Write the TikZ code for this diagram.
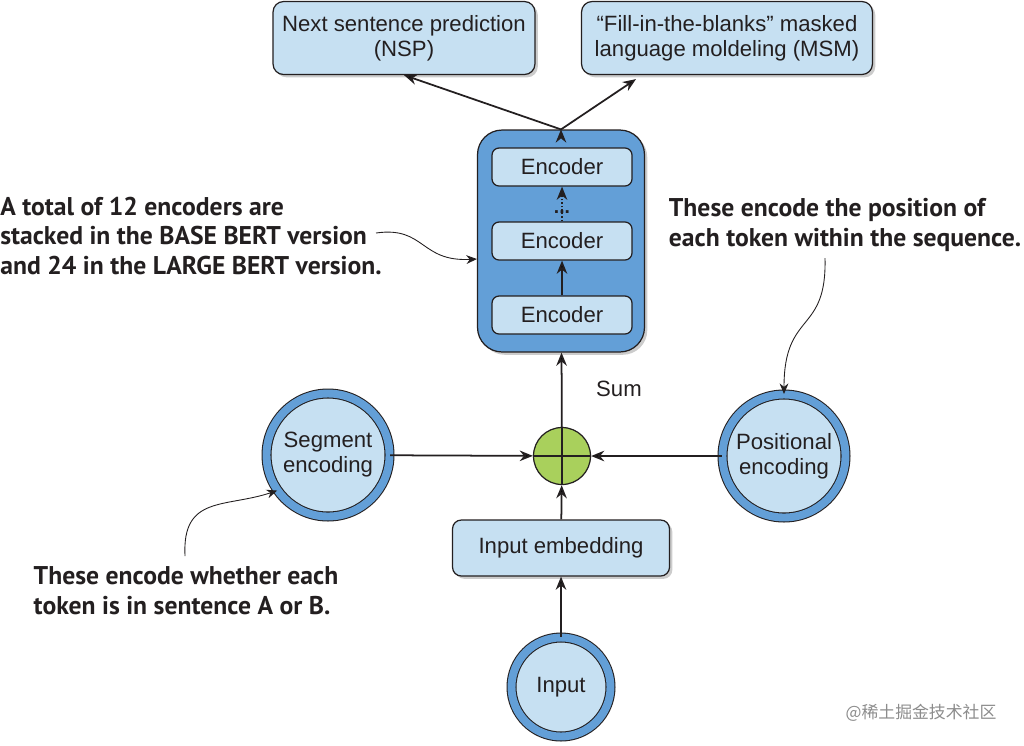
\documentclass[tikz,border=0pt]{standalone}
\usepackage{fontspec}
\setmainfont{Liberation Sans}
\newfontfamily\notefont{PT Sans}
\newfontfamily\cjkfont{Noto Sans CJK SC}
\usetikzlibrary{arrows.meta, shadows, calc, positioning}

\definecolor{boxblue}{HTML}{C6E0F2}
\definecolor{stackblue}{HTML}{639FD7}
\definecolor{sumgreen}{HTML}{A9D05C}
\definecolor{inkgray}{HTML}{231F20}

\tikzset{
  shade box/.style={drop shadow={shadow xshift=1.6pt, shadow yshift=-1.6pt, fill=black!40}},
  taskbox/.style={draw=inkgray, line width=0.7pt, fill=boxblue, rounded corners=6pt,
    align=center, minimum height=1.46cm, shade box},
  encbox/.style={draw=inkgray, line width=0.7pt, fill=boxblue, rounded corners=4pt,
    minimum width=2.8cm, minimum height=0.76cm},
  ring/.style={circle, draw=inkgray, line width=0.6pt, double=stackblue, double distance=4.5pt,
    fill=boxblue, align=center, inner sep=0pt, shade box},
  note/.style={font=\notefont\bfseries\fontsize{14.6}{17}\selectfont, text=inkgray,
    align=left, inner sep=0pt},
  link/.style={->, line width=1pt, draw=inkgray},
  remark/.style={->, line width=0.5pt, draw=inkgray, >={Stealth[length=6pt, width=5pt]}}
}

\begin{document}
\begin{tikzpicture}[x=0.02cm, y=-0.02cm, >={Stealth[length=7.5pt, width=6pt]},
  every node/.style={font=\fontsize{12.6}{14.2}\selectfont, text=inkgray}]
  \useasboundingbox (0,0) rectangle (1024,745);

  % tasks on top
  \node[taskbox, minimum width=5.24cm] (nsp) at (404,38) {Next sentence prediction\\(NSP)};
  \node[taskbox, minimum width=5.82cm] (msm) at (727,38) {“Fill-in-the-blanks” masked\\language moldeling (MSM)};

  % encoder stack
  \node[draw=inkgray, line width=0.7pt, fill=stackblue, rounded corners=14pt,
        minimum width=3.34cm, minimum height=4.44cm, shade box] (stack) at (561,241) {};
  \node[encbox] (enc1) at (562,315) {Encoder};
  \node[encbox] (enc2) at (562,241) {Encoder};
  \node[encbox] (enc3) at (562,167) {Encoder};

  % embeddings
  \node[circle, draw=inkgray, line width=0.7pt, fill=sumgreen, minimum size=1.14cm] (sum) at (562,456) {};
  \node[ring, minimum size=2.46cm] (seg) at (328,455) {Segment\\encoding};
  \node[ring, minimum size=2.46cm] (pos) at (784,456) {Positional\\encoding};
  \node[taskbox, rounded corners=5pt, minimum width=4.34cm, minimum height=1.12cm] (embed) at (561,548) {Input embedding};
  \node[ring, minimum size=1.98cm] (input) at (561,687) {Input};
  \node[anchor=west] (sumlabel) at (590,389) {Sum};

  \draw[inkgray, line width=0.7pt] (sum.north) -- (sum.south) (sum.west) -- (sum.east);

  \path[link]
    (enc1) edge (enc2)
    (stack.north) edge (nsp.south)
    (stack.north) edge ($(msm.south)+(-91,4)$)
    (sum) edge (stack)
    (seg) edge (sum)
    (pos) edge (sum)
    (embed) edge (sum)
    (input) edge (embed);
  \draw[link, densely dotted] (enc2.north) -- (enc3.south);
  \node[inner sep=0pt, font=\bfseries\fontsize{11}{11}\selectfont] (dots) at (562,212) {...};

  % side notes
  \node[note, anchor=west] (basenote) at (0,236)
    {A total of 12 encoders are\\stacked in the BASE BERT version\\and 24 in the LARGE BERT version.};
  \node[note] (posnote) at (845,225) {These encode the position of\\each token within the sequence.};
  \node[note] (segnote) at (186,591) {These encode whether each\\token is in sentence A or B.};
  \coordinate (basetail) at (376,233);
  \coordinate (postail) at (825,258);
  \coordinate (segtail) at (185,556);

  \draw[remark] (basetail) .. controls (425,226) and (420,262) .. (stack.west |- 0,259);
  \draw[remark] (postail) .. controls (827,335) and (784,310) .. (pos.north);
  \draw[remark] (segtail) .. controls (182,495) and (225,508) .. (seg.-145);

  \node[text=black!45, font=\cjkfont\fontsize{9.6}{10}\selectfont] (mark) at (921,713) {@稀土掘金技术社区};
\end{tikzpicture}
\end{document}
